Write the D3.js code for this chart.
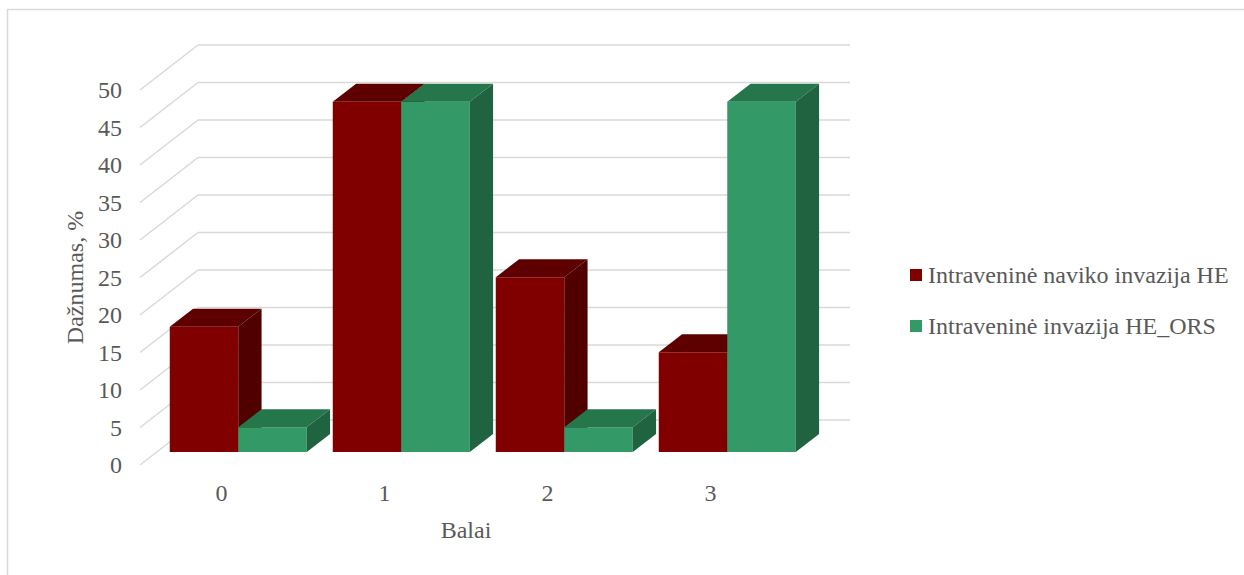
<!DOCTYPE html>
<html>
<head>
<meta charset="utf-8">
<script src="https://cdn.jsdelivr.net/npm/d3@7"></script>
<style>
  body { margin: 0; background: #fff; }
</style>
</head>
<body>
<div id="chart"></div>
<script>
var categories = ["0", "1", "2", "3"];
var seriesNames = ["Intraveninė naviko invazija HE", "Intraveninė invazija HE_ORS"];
var valuesHE = [16.7, 46.7, 23.3, 13.3];
var valuesORS = [3.3, 46.7, 3.3, 46.7];
var yTicks = [0, 5, 10, 15, 20, 25, 30, 35, 40, 45, 50];

var colors = [
  {front: "#800000", top: "#5f0000", side: "#510000"},
  {front: "#339966", top: "#26764c", side: "#206340"}
];

var font = "'Liberation Serif', 'Times New Roman', 'DejaVu Serif', serif";
var width = 1244, height = 575;
var wall = {left: 198, right: 850};
// oblique depth vector: back wall -> front edge of floor
var depth = {dx: -58, dy: 45};
var barFront = 0.711, barBack = 0.309;   // fraction of depth where bars sit

var svg = d3.select("#chart").append("svg")
  .attr("width", width)
  .attr("height", height);

// outer chart border
svg.append("rect")
  .attr("x", 7.5).attr("y", 9.5)
  .attr("width", 1260).attr("height", 600)
  .attr("fill", "none")
  .attr("stroke", "#d9d9d9")
  .attr("stroke-width", 1.5);

var y = d3.scaleLinear().domain([0, 50]).range([420, 45]);

var x0 = d3.scaleBand().domain(categories).range([wall.left, wall.right]);
var x1 = d3.scaleBand().domain([0, 1]).range([13, x0.bandwidth() - 13]);

// gridlines: back wall + left wall diagonals
var grid = svg.append("g").attr("stroke", "#d9d9d9").attr("stroke-width", 1.5).attr("fill", "none");
yTicks.forEach(function(v) {
  grid.append("line")
    .attr("x1", wall.left).attr("x2", wall.right)
    .attr("y1", y(v)).attr("y2", y(v));
  grid.append("line")
    .attr("x1", wall.left + depth.dx).attr("y1", y(v) + depth.dy)
    .attr("x2", wall.left).attr("y2", y(v));
});

function label(sel) {
  return sel.attr("fill", "#595959")
    .attr("font-family", font)
    .attr("font-size", "24px");
}

// y tick labels
svg.append("g").selectAll("text")
  .data(yTicks)
  .enter().append("text")
  .attr("x", 122)
  .attr("y", function(d) { return y(d) + depth.dy; })
  .attr("dy", "0.35em")
  .attr("text-anchor", "end")
  .call(label)
  .text(function(d) { return d; });

// bars
var bars = [];
categories.forEach(function(c, i) {
  [valuesHE, valuesORS].forEach(function(vals, s) {
    bars.push({cat: c, s: s, v: vals[i]});
  });
});

var fdx = depth.dx * barFront, fdy = depth.dy * barFront;
var bdx = depth.dx * barBack, bdy = depth.dy * barBack;

function pt(px, py) { return px + "," + py; }

var barG = svg.append("g").selectAll("g")
  .data(bars)
  .enter().append("g");

barG.each(function(d) {
  var g = d3.select(this);
  var xl = x0(d.cat) + x1(d.s), xr = xl + x1.bandwidth();
  var yb = y(0), yt = y(d.v);
  var col = colors[d.s];
  // front face
  g.append("polygon")
    .attr("points", [pt(xl + fdx, yt + fdy), pt(xr + fdx, yt + fdy), pt(xr + fdx, yb + fdy), pt(xl + fdx, yb + fdy)].join(" "))
    .attr("fill", col.front);
  // top face
  g.append("polygon")
    .attr("points", [pt(xl + fdx, yt + fdy), pt(xl + bdx, yt + bdy), pt(xr + bdx, yt + bdy), pt(xr + fdx, yt + fdy)].join(" "))
    .attr("fill", col.top);
  // right side face
  g.append("polygon")
    .attr("points", [pt(xr + fdx, yt + fdy), pt(xr + bdx, yt + bdy), pt(xr + bdx, yb + bdy), pt(xr + fdx, yb + fdy)].join(" "))
    .attr("fill", col.side);
});

// x tick labels at the front edge
svg.append("g").selectAll("text")
  .data(categories)
  .enter().append("text")
  .attr("x", function(d) { return x0(d) + x0.bandwidth() / 2 + depth.dx; })
  .attr("y", 493)
  .attr("dy", "0.35em")
  .attr("text-anchor", "middle")
  .call(label)
  .text(function(d) { return d; });

// axis titles
svg.append("text")
  .attr("x", (wall.left + wall.right) / 2 + depth.dx)
  .attr("y", 530)
  .attr("dy", "0.35em")
  .attr("text-anchor", "middle")
  .call(label)
  .text("Balai");

svg.append("text")
  .attr("transform", "translate(75," + ((y(0) + y(50)) / 2 + depth.dy) + ") rotate(-90)")
  .attr("dy", "0.35em")
  .attr("text-anchor", "middle")
  .call(label)
  .text("Dažnumas, %");

// legend
var legend = svg.append("g").selectAll("g")
  .data(seriesNames)
  .enter().append("g")
  .attr("transform", function(d, i) { return "translate(910," + (275 + i * 51) + ")"; });

legend.append("rect")
  .attr("x", 0).attr("y", -6)
  .attr("width", 12).attr("height", 12)
  .attr("fill", function(d, i) { return colors[i].front; });

legend.append("text")
  .attr("x", 18)
  .attr("y", 0)
  .attr("dy", "0.35em")
  .call(label)
  .text(function(d) { return d; });
</script>
</body>
</html>
